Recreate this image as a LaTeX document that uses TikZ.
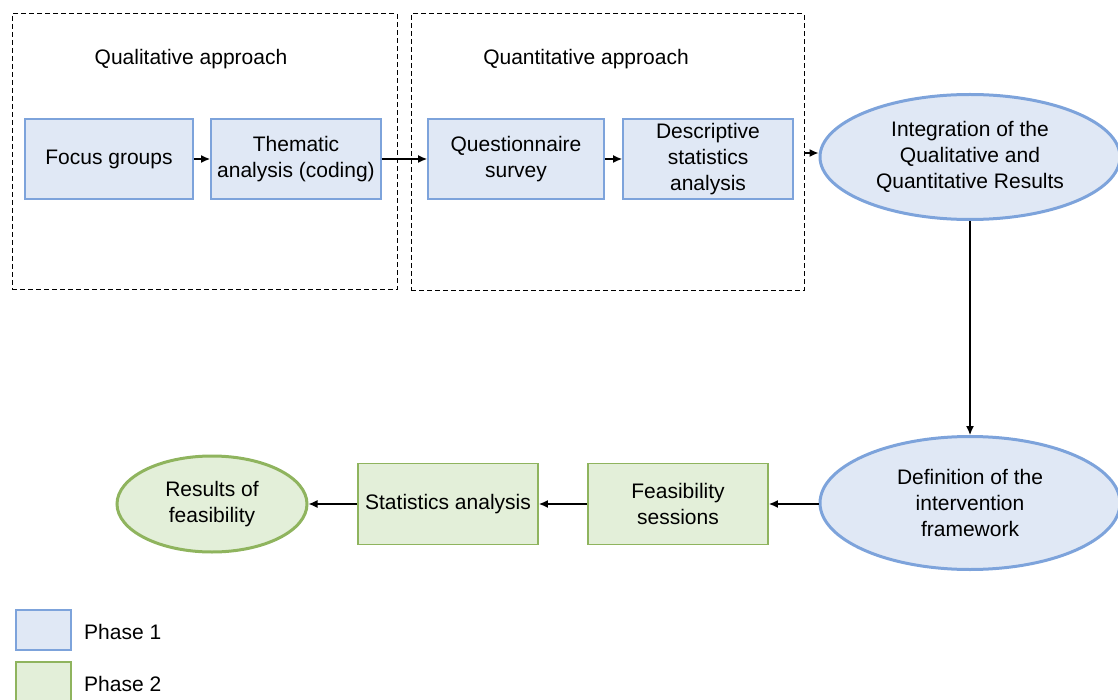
\documentclass[tikz,border=0pt]{standalone}
\usepackage{fontspec}
\setmainfont{Liberation Sans}
\usetikzlibrary{shapes.geometric,arrows.meta}
\definecolor{bfill}{HTML}{E0E8F5}
\definecolor{bline}{HTML}{7DA3DB}
\definecolor{gfill}{HTML}{E3EFD9}
\definecolor{gline}{HTML}{8FB45E}
\begin{document}
\begin{tikzpicture}[x=1pt,y=-1pt,
  every node/.style={font=\fontsize{21}{26}\selectfont, align=center, inner sep=0pt},
  bbox/.style={draw=bline, fill=bfill, line width=1.8pt},
  gbox/.style={draw=gline, fill=gfill, line width=1.8pt},
  bell/.style={ellipse, draw=bline, fill=bfill, line width=3pt},
  gell/.style={ellipse, draw=gline, fill=gfill, line width=3pt},
  dbox/.style={draw=black, dashed, line width=1pt, dash pattern=on 5pt off 3pt},
  arr/.style={-{Latex[length=9pt,width=8pt]}, line width=1.3pt}]
\useasboundingbox (0,0) rectangle (1118,700);
% dashed group boxes
\node[dbox, minimum width=385, minimum height=276] (g1) at (204.5,152) {};
\node[dbox, minimum width=393, minimum height=277] (g2) at (607.5,152.5) {};
\node (l1) at (191,59) {Qualitative approach};
\node (l2) at (586,59) {Quantitative approach};
% phase 1 boxes
\node[bbox, minimum width=168, minimum height=80] (fg) at (109,159) {Focus groups};
\node[bbox, minimum width=170, minimum height=80] (ta) at (296,159) {Thematic\\analysis (coding)};
\node[bbox, minimum width=176, minimum height=80] (qs) at (516,159) {Questionnaire\\survey};
\node[bbox, minimum width=170, minimum height=80] (ds) at (708,159) {Descriptive\\statistics\\analysis};
\node[bell, minimum width=300, minimum height=125] (int) at (970,157) {Integration of the\\Qualitative and\\Quantitative Results};
\node[bell, minimum width=300, minimum height=133] (def) at (970,503) {Definition of the\\intervention\\framework};
% phase 2
\node[gbox, minimum width=180, minimum height=81] (fs) at (678,504) {Feasibility\\sessions};
\node[gbox, minimum width=180, minimum height=81] (sa) at (448,504) {Statistics analysis};
\node[gell, minimum width=190, minimum height=96] (rf) at (212,504) {Results of\\feasibility};
% connectors
\draw[arr] (fg.east) -- (ta.west);
\draw[arr] (ta.east) -- (qs.west);
\draw[arr] (qs.east) -- (ds.west);
\draw[arr] (g2.east |- 0,153) -- (int.west |- 0,153);
\draw[arr] (int.south) -- (def.north);
\draw[arr] (def.west |- fs.east) -- (fs.east);
\draw[arr] (fs.west) -- (sa.east);
\draw[arr] (sa.west) -- (rf.east);
% legend
\node[bbox, minimum width=55, minimum height=40] (k1) at (43.5,630) {};
\node[gbox, minimum width=55, minimum height=40] (k2) at (43.5,682) {};
\node[anchor=west] (t1) at (84,632) {Phase 1};
\node[anchor=west] (t2) at (84,684) {Phase 2};
\end{tikzpicture}
\end{document}
